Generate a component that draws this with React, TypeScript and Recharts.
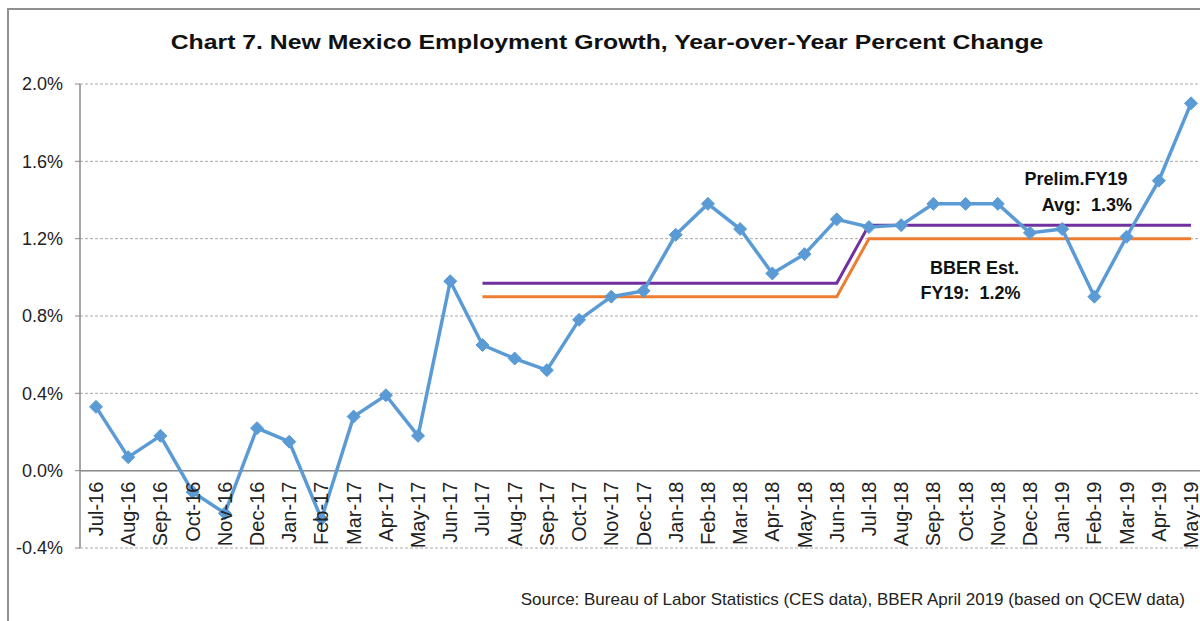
import { LineChart, Line, XAxis, YAxis, CartesianGrid, ReferenceLine } from "recharts";

const months = [
  "Jul-16", "Aug-16", "Sep-16", "Oct-16", "Nov-16", "Dec-16", "Jan-17", "Feb-17", "Mar-17", "Apr-17", "May-17", "Jun-17",
  "Jul-17", "Aug-17", "Sep-17", "Oct-17", "Nov-17", "Dec-17", "Jan-18", "Feb-18", "Mar-18", "Apr-18", "May-18", "Jun-18",
  "Jul-18", "Aug-18", "Sep-18", "Oct-18", "Nov-18", "Dec-18", "Jan-19", "Feb-19", "Mar-19", "Apr-19", "May-19",
];

// year-over-year growth, percent
const growth = [
  0.33, 0.07, 0.18, -0.11, -0.22, 0.22, 0.15, -0.25, 0.28, 0.39, 0.18, 0.98,
  0.65, 0.58, 0.52, 0.78, 0.90, 0.93, 1.22, 1.38, 1.25, 1.02, 1.12, 1.30,
  1.26, 1.27, 1.38, 1.38, 1.38, 1.23, 1.25, 0.90, 1.21, 1.50, 1.90,
];

// preliminary average (purple) and BBER estimate (orange), FY18 then FY19
const prelimAvg = [
  null, null, null, null, null, null, null, null, null, null, null, null,
  0.97, 0.97, 0.97, 0.97, 0.97, 0.97, 0.97, 0.97, 0.97, 0.97, 0.97, 0.97,
  1.27, 1.27, 1.27, 1.27, 1.27, 1.27, 1.27, 1.27, 1.27, 1.27, 1.27,
];
const bberEst = [
  null, null, null, null, null, null, null, null, null, null, null, null,
  0.90, 0.90, 0.90, 0.90, 0.90, 0.90, 0.90, 0.90, 0.90, 0.90, 0.90, 0.90,
  1.20, 1.20, 1.20, 1.20, 1.20, 1.20, 1.20, 1.20, 1.20, 1.20, 1.20,
];

const yTicks = [-0.4, 0, 0.4, 0.8, 1.2, 1.6, 2.0];
const Y_MIN = -0.4;
const Y_MAX = 2.0;

const FONT = "'Liberation Sans', Arial, sans-serif";
const PLOT_TOP = 84;
const PLOT_BOTTOM = 548;
const CHART_H = 621;
// pixel y of the 0% line, where Excel puts the category labels
const ZERO_Y = PLOT_TOP + ((PLOT_BOTTOM - PLOT_TOP) * (Y_MAX - 0)) / (Y_MAX - Y_MIN);

const data = months.map((m, i) => ({
  month: m,
  growth: growth[i],
  prelim: prelimAvg[i],
  bber: bberEst[i],
}));

const Diamond = (props: any) => {
  const { cx, cy } = props;
  if (cx == null || cy == null) return null;
  const s = 6.5;
  return (
    <path
      d={`M${cx},${cy - s} L${cx + s},${cy} L${cx},${cy + s} L${cx - s},${cy} Z`}
      fill="#5B9BD5"
      stroke="#5B9BD5"
    />
  );
};

const MonthTick = (props: any) => {
  const { x, payload } = props;
  return (
    <text
      transform={`translate(${x},${ZERO_Y + 11}) rotate(-90)`}
      textAnchor="end"
      dominantBaseline="central"
      fontSize={20}
      fontFamily={FONT}
      fill="#222"
    >
      {payload.value}
    </text>
  );
};

export default function App() {
  return (
    <div
      style={{
        position: "absolute",
        left: 0,
        top: 0,
        width: 1200,
        height: 621,
        overflow: "hidden",
        background: "#fff",
        fontFamily: FONT,
      }}
    >
      {/* chart frame, cut off at right/bottom like the screenshot */}
      <div
        style={{
          position: "absolute",
          left: 7,
          top: 8,
          width: 1300,
          height: 700,
          border: "2px solid #8f8f8f",
        }}
      />

      <div
        style={{
          position: "absolute",
          top: 30,
          left: 0,
          width: 1214,
          textAlign: "center",
          fontSize: 21,
          fontWeight: "bold",
          color: "#111",
          transform: "scaleX(1.18)",
          transformOrigin: "607px 0",
        }}
      >
        Chart 7. New Mexico Employment Growth, Year-over-Year Percent Change
      </div>

      <div style={{ position: "absolute", left: 0, top: 0 }}>
        <LineChart
          width={1210}
          height={CHART_H}
          data={data}
          margin={{ top: PLOT_TOP, right: 3, bottom: CHART_H - PLOT_BOTTOM - 1, left: 8 }}
        >
          <CartesianGrid vertical={false} stroke="#a8a8a8" strokeDasharray="3 2" />
          <XAxis
            dataKey="month"
            interval={0}
            height={1}
            padding={{ left: 16, right: 16 }}
            axisLine={false}
            tickLine={false}
            tick={<MonthTick />}
          />
          <YAxis
            width={72}
            domain={[Y_MIN, Y_MAX]}
            ticks={yTicks}
            interval={0}
            allowDataOverflow
            tickFormatter={(v: number) => v.toFixed(1) + "%"}
            axisLine={{ stroke: "#8a8a8a", strokeWidth: 1.5 }}
            tickLine={{ stroke: "#8a8a8a" }}
            tickSize={5}
            tickMargin={12}
            tick={{ fontSize: 18, fill: "#222", fontFamily: FONT }}
          />
          <ReferenceLine y={0} stroke="#8a8a8a" strokeWidth={1.5} />
          <Line
            dataKey="bber"
            stroke="#ED7D31"
            strokeWidth={3}
            dot={false}
            isAnimationActive={false}
            type="linear"
          />
          <Line
            dataKey="prelim"
            stroke="#7030A0"
            strokeWidth={3}
            dot={false}
            isAnimationActive={false}
            type="linear"
          />
          <Line
            dataKey="growth"
            stroke="#5B9BD5"
            strokeWidth={3.5}
            dot={<Diamond />}
            activeDot={false}
            isAnimationActive={false}
            type="linear"
          />
        </LineChart>
      </div>

      {/* annotations */}
      <div
        style={{
          position: "absolute",
          left: 1000,
          top: 166,
          width: 132,
          textAlign: "right",
          fontSize: 18,
          fontWeight: "bold",
          lineHeight: "26px",
          color: "#111",
        }}
      >
        <div style={{ textAlign: "center", marginLeft: 20 }}>Prelim.FY19</div>
        <div>Avg:&nbsp; 1.3%</div>
      </div>
      <div
        style={{
          position: "absolute",
          left: 908,
          top: 256,
          width: 125,
          textAlign: "center",
          fontSize: 18,
          fontWeight: "bold",
          lineHeight: "25px",
          color: "#111",
        }}
      >
        <div style={{ marginLeft: 8 }}>BBER Est.</div>
        <div>FY19:&nbsp; 1.2%</div>
      </div>

      <div
        style={{
          position: "absolute",
          right: 15,
          top: 590,
          fontSize: 17,
          color: "#222",
          whiteSpace: "nowrap",
        }}
      >
        Source: Bureau of Labor Statistics (CES data), BBER April 2019 (based on QCEW data)
      </div>
    </div>
  );
}
